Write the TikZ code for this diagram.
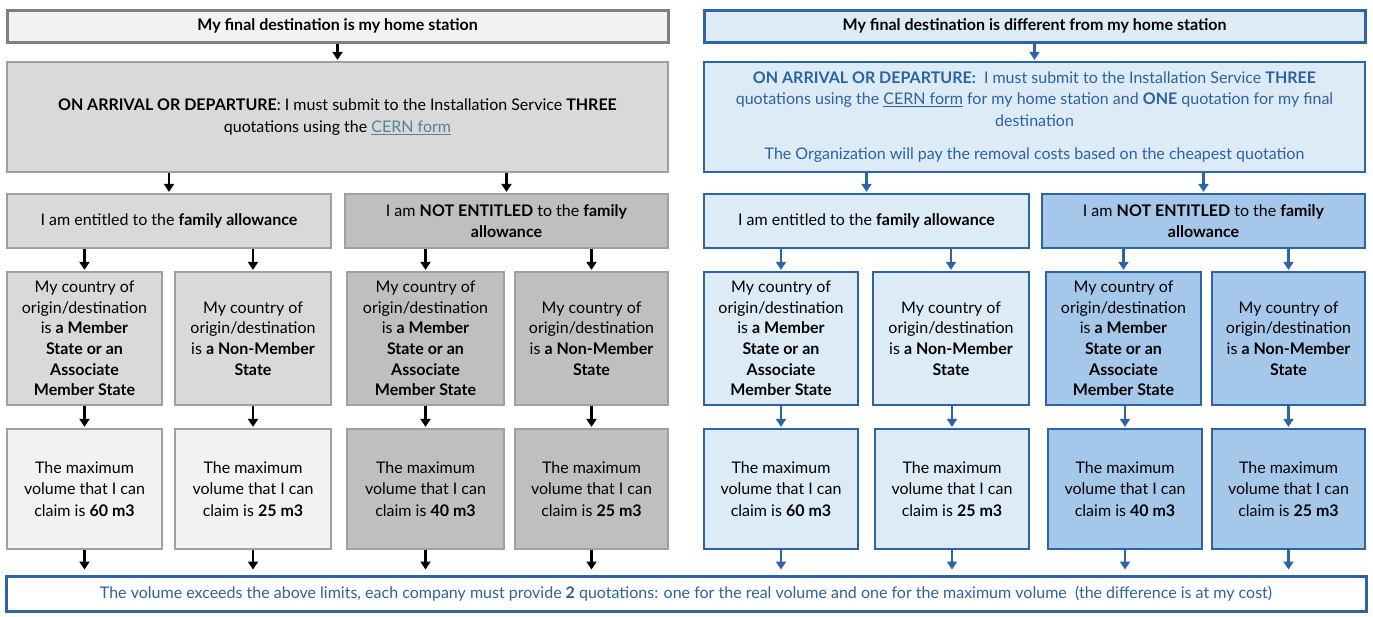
\documentclass[tikz,border=0pt]{standalone}
\usepackage{fontspec}
\setmainfont{Lato}
\usepackage{xcolor}
\usepackage{tikz}
\usetikzlibrary{arrows.meta,calc,positioning}

\definecolor{hgreyA}{HTML}{F2F2F2}
\definecolor{hgreyB}{HTML}{D9D9D9}
\definecolor{hgreyC}{HTML}{BFBFBF}
\definecolor{hline}{HTML}{A0A0A0}
\definecolor{hlink}{HTML}{4F8496}
\definecolor{dblueA}{HTML}{DDEBF7}
\definecolor{dblueB}{HTML}{A5C8EA}
\definecolor{dline}{HTML}{2E64A4}
\definecolor{dtext}{HTML}{2B62A0}

\begin{document}
\begin{tikzpicture}[x=1pt,y=-1pt]

\tikzset{box/.style={draw, rectangle, align=center, inner sep=1pt,
  font=\fontsize{16}{21.5}\selectfont},
hbox/.style={box, draw=hline, line width=1.2pt},
dbox/.style={box, draw=dline, line width=1.2pt},
wide/.style={minimum width=661pt, minimum height=#1},
wide/.default={32pt},
halfbox/.style={minimum width=#1, minimum height=54pt},
colbox/.style={minimum width=#1, minimum height=133pt},
volbox/.style={minimum width=#1, minimum height=120pt},
harr/.style={-{Triangle[width=10pt,length=8pt]}, line width=2.2pt, black, shorten >=1.5pt},
darr/.style={harr, dline}}

\useasboundingbox (0,0) rectangle (1373,616);

%left column: back to the home station
\node[hbox, wide, fill=hgreyA, draw=gray, line width=3pt] (htop) at (337.5,26)
  {\textbf{My final destination is my home station}};
\node[hbox, wide=110pt, fill=hgreyB] (hquote) at (337.5,117)
  {\textbf{ON ARRIVAL OR DEPARTURE}: I must submit to the Installation Service \textbf{THREE}\\
   quotations using the \textcolor{hlink}{\underline{CERN form}}};
\node[hbox, halfbox=324pt, fill=hgreyB] (hyes) at (169,221)
  {I am entitled to the \textbf{family allowance}};
\node[hbox, halfbox=323pt, fill=hgreyC] (hno) at (506.5,221)
  {I am \textbf{NOT ENTITLED} to the \textbf{family}\\ \textbf{allowance}};

\foreach \n/\x/\w/\c in {1/84.5/155pt/hgreyB, 2/253/156pt/hgreyB, 3/425.5/157pt/hgreyC, 4/591.5/153pt/hgreyC}
  \node[hbox, colbox=\w, fill=\c] (hc\n) at (\x,338.5) {};
\node[align=center, font=\fontsize{16}{20.6}\selectfont] at (hc1)
  {My country of\\ origin/destination\\ is \textbf{a Member}\\ \textbf{State or an}\\ \textbf{Associate}\\ \textbf{Member State}};
\node[align=center, font=\fontsize{16}{20.6}\selectfont] at (hc2)
  {My country of\\ origin/destination\\ is \textbf{a Non-Member}\\ \textbf{State}};
\node[align=center, font=\fontsize{16}{20.6}\selectfont] at (hc3)
  {My country of\\ origin/destination\\ is \textbf{a Member}\\ \textbf{State or an}\\ \textbf{Associate}\\ \textbf{Member State}};
\node[align=center, font=\fontsize{16}{20.6}\selectfont] at (hc4)
  {My country of\\ origin/destination\\ is \textbf{a Non-Member}\\ \textbf{State}};

\foreach \n/\x/\w/\c/\v in {1/84.5/155pt/hgreyA/60, 2/253/156pt/hgreyA/25, 3/425.5/157pt/hgreyC/40, 4/591.5/153pt/hgreyC/25}
  \node[hbox, volbox=\w, fill=\c] (hm\n) at (\x,489)
    {The maximum\\ volume that I can\\ claim is \textbf{\v\ m3}};

%right column: somewhere else
\node[dbox, wide, fill=dblueA, line width=3pt] (dtop) at (1034.5,26)
  {\textbf{My final destination is different from my home station}};
\node[dbox, wide=110pt, fill=dblueA, text=dtext] (dquote) at (1034.5,117)
  {\textbf{ON ARRIVAL OR DEPARTURE:}\ \ I must submit to the Installation Service \textbf{THREE}\\
   quotations using the \underline{CERN form} for my home station and \textbf{ONE} quotation for my final\\
   destination\\[12pt]
   The Organization will pay the removal costs based on the cheapest quotation};
\node[dbox, halfbox=325pt, fill=dblueA] (dyes) at (866.5,221)
  {I am entitled to the \textbf{family allowance}};
\node[dbox, halfbox=323pt, fill=dblueB] (dno) at (1203.5,221)
  {I am \textbf{NOT ENTITLED} to the \textbf{family}\\ \textbf{allowance}};

\foreach \n/\x/\w/\c in {1/781/154pt/dblueA, 2/951/156pt/dblueA, 3/1123.5/155pt/dblueB, 4/1288.5/153pt/dblueB}
  \node[dbox, colbox=\w, fill=\c] (dc\n) at (\x,338.5) {};
\node[align=center, font=\fontsize{16}{20.6}\selectfont] at (dc1)
  {My country of\\ origin/destination\\ is \textbf{a Member}\\ \textbf{State or an}\\ \textbf{Associate}\\ \textbf{Member State}};
\node[align=center, font=\fontsize{16}{20.6}\selectfont] at (dc2)
  {My country of\\ origin/destination\\ is \textbf{a Non-Member}\\ \textbf{State}};
\node[align=center, font=\fontsize{16}{20.6}\selectfont] at (dc3)
  {My country of\\ origin/destination\\ is \textbf{a Member}\\ \textbf{State or an}\\ \textbf{Associate}\\ \textbf{Member State}};
\node[align=center, font=\fontsize{16}{20.6}\selectfont] at (dc4)
  {My country of\\ origin/destination\\ is \textbf{a Non-Member}\\ \textbf{State}};

\foreach \n/\x/\w/\c/\v in {1/781/154pt/dblueA/60, 2/952/154pt/dblueA/25, 3/1125/154pt/dblueB/40, 4/1288.5/153pt/dblueB/25}
  \node[dbox, volbox=\w, fill=\c] (dm\n) at (\x,489)
    {The maximum\\ volume that I can\\ claim is \textbf{\v\ m3}};

%common line at the bottom
\node[dbox, minimum width=1360pt, minimum height=35pt, fill=white, line width=3pt, text=dtext] (over) at (686,593.5)
  {The volume exceeds the above limits, each company must provide \textbf{2} quotations: one for the real volume and one for the maximum volume\ \ (the difference is at my cost)};

%arrows
\draw[harr] (htop.south) -- (hquote.north);
\draw[darr] (dtop.south) -- (dquote.north);
\foreach \a/\b in {hquote/hyes, hquote/hno, hyes/hc1, hyes/hc2, hno/hc3, hno/hc4}
  \draw[harr] (\b.north |- \a.south) -- (\b.north);
\foreach \a/\b in {dquote/dyes, dquote/dno, dyes/dc1, dyes/dc2, dno/dc3, dno/dc4}
  \draw[darr] (\b.north |- \a.south) -- (\b.north);
\foreach \i in {1,...,4} {
  \draw[harr] (hm\i.north |- hc\i.south) -- (hm\i.north);
  \draw[darr] (dm\i.north |- dc\i.south) -- (dm\i.north);
  \draw[harr, shorten >=5pt] (hm\i.south) -- (hm\i.south |- over.north);
  \draw[darr, shorten >=5pt] (dm\i.south) -- (dm\i.south |- over.north);
}

\end{tikzpicture}
\end{document}
